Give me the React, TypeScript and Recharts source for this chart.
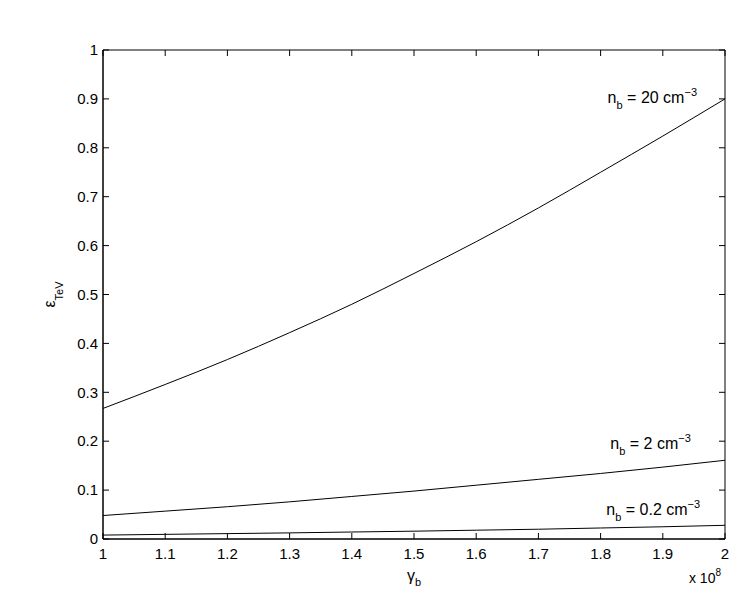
import React from "react";
import { LineChart, Line, XAxis, YAxis, ReferenceArea, ReferenceDot } from "recharts";

// gamma_b in units of 1e8
const gammaB = [1, 1.1, 1.2, 1.3, 1.4, 1.5, 1.6, 1.7, 1.8, 1.9, 2];
// epsilon_TeV for each density
const epsN20 = [0.267, 0.316, 0.367, 0.422, 0.48, 0.543, 0.608, 0.677, 0.75, 0.824, 0.9];
const epsN2 = [0.048, 0.057, 0.066, 0.076, 0.087, 0.098, 0.11, 0.122, 0.134, 0.147, 0.161];
const epsN02 = [0.008, 0.0095, 0.011, 0.0125, 0.0143, 0.016, 0.018, 0.02, 0.0225, 0.025, 0.028];

const xTicks = [1, 1.1, 1.2, 1.3, 1.4, 1.5, 1.6, 1.7, 1.8, 1.9, 2];
const yTicks = [0, 0.1, 0.2, 0.3, 0.4, 0.5, 0.6, 0.7, 0.8, 0.9, 1];

// curve annotations: density text and where it sits (data coords, text end)
const curveLabels = [
  { density: "20", x: 1.955, y: 0.892 },
  { density: "2", x: 1.945, y: 0.185 },
  { density: "0.2", x: 1.96, y: 0.049 },
];

const data = gammaB.map((g, i) => ({
  g,
  n20: epsN20[i],
  n2: epsN2[i],
  n02: epsN02[i],
}));

const W = 734;
const H = 591;
const MARGIN = { top: 50, right: 9, bottom: 22, left: 43 };
const Y_AXIS_W = 60;
const X_AXIS_H = 30;
const PLOT_W = W - MARGIN.left - MARGIN.right - Y_AXIS_W;
const PLOT_H = H - MARGIN.top - MARGIN.bottom - X_AXIS_H;

const FONT = "'Liberation Sans', Arial, sans-serif";
const TICK_LEN = 6;

const XTick = ({ x, y, payload }: any) => (
  <g>
    <line x1={x} y1={y} x2={x} y2={y - TICK_LEN} stroke="#000" />
    <line x1={x} y1={y - PLOT_H} x2={x} y2={y - PLOT_H + TICK_LEN} stroke="#000" />
    <text x={x} y={y + 20} textAnchor="middle" fontSize={15} fontFamily={FONT} fill="#000">
      {payload.value}
    </text>
  </g>
);

const YTick = ({ x, y, payload }: any) => (
  <g>
    <line x1={x} y1={y} x2={x + TICK_LEN} y2={y} stroke="#000" />
    <line x1={x + PLOT_W} y1={y} x2={x + PLOT_W - TICK_LEN} y2={y} stroke="#000" />
    <text x={x - 5} y={y} dy="0.35em" textAnchor="end" fontSize={15} fontFamily={FONT} fill="#000">
      {payload.value}
    </text>
  </g>
);

const XLabel = ({ viewBox }: any) => {
  const { x, y, width } = viewBox;
  return (
    <g fontFamily={FONT} fill="#000">
      <text x={x + width / 2} y={y + 42} textAnchor="middle" fontSize={16}>
        γ<tspan dy={5} fontSize={11}>b</tspan>
      </text>
      <text x={x + width - 4} y={y + 44} textAnchor="end" fontSize={14}>
        x 10<tspan dy={-7} fontSize={10}>8</tspan>
      </text>
    </g>
  );
};

const YLabel = ({ viewBox }: any) => {
  const { x, y, height } = viewBox;
  const cx = x + 12;
  const cy = y + height / 2;
  return (
    <text
      x={cx}
      y={cy}
      transform={`rotate(-90 ${cx} ${cy})`}
      textAnchor="middle"
      fontSize={16}
      fontFamily={FONT}
      fill="#000"
    >
      ε<tspan dy={8} fontSize={11}>TeV</tspan>
    </text>
  );
};

const CurveLabel = ({ cx, cy, density }: any) => (
  <text x={cx} y={cy} textAnchor="end" fontSize={16} fontFamily={FONT} fill="#000">
    n<tspan dy={6} fontSize={11}>b</tspan>
    <tspan dy={-6}>{` = ${density} cm`}</tspan>
    <tspan dy={-7} fontSize={11}>−3</tspan>
  </text>
);

export default function App() {
  return (
    <div style={{ position: "absolute", left: 0, top: 0, background: "#fff" }}>
      <LineChart width={W} height={H} data={data} margin={MARGIN}>
        <XAxis
          dataKey="g"
          type="number"
          domain={[1, 2]}
          ticks={xTicks}
          height={X_AXIS_H}
          tickSize={0}
          tickMargin={0}
          tickLine={false}
          tick={<XTick />}
          axisLine={{ stroke: "#000" }}
          interval={0}
          label={<XLabel />}
        />
        <YAxis
          type="number"
          domain={[0, 1]}
          ticks={yTicks}
          width={Y_AXIS_W}
          tickSize={0}
          tickMargin={0}
          tickLine={false}
          tick={<YTick />}
          axisLine={{ stroke: "#000" }}
          interval={0}
          label={<YLabel />}
        />
        <ReferenceArea x1={1} x2={2} y1={0} y2={1} fill="none" stroke="#000" strokeWidth={1} />
        <Line dataKey="n20" stroke="#000" strokeWidth={1} dot={false} type="monotone" isAnimationActive={false} />
        <Line dataKey="n2" stroke="#000" strokeWidth={1} dot={false} type="monotone" isAnimationActive={false} />
        <Line dataKey="n02" stroke="#000" strokeWidth={1} dot={false} type="monotone" isAnimationActive={false} />
        {curveLabels.map((c) => (
          <ReferenceDot
            key={c.density}
            x={c.x}
            y={c.y}
            r={0}
            shape={(p: any) => <CurveLabel {...p} density={c.density} />}
          />
        ))}
      </LineChart>
    </div>
  );
}
